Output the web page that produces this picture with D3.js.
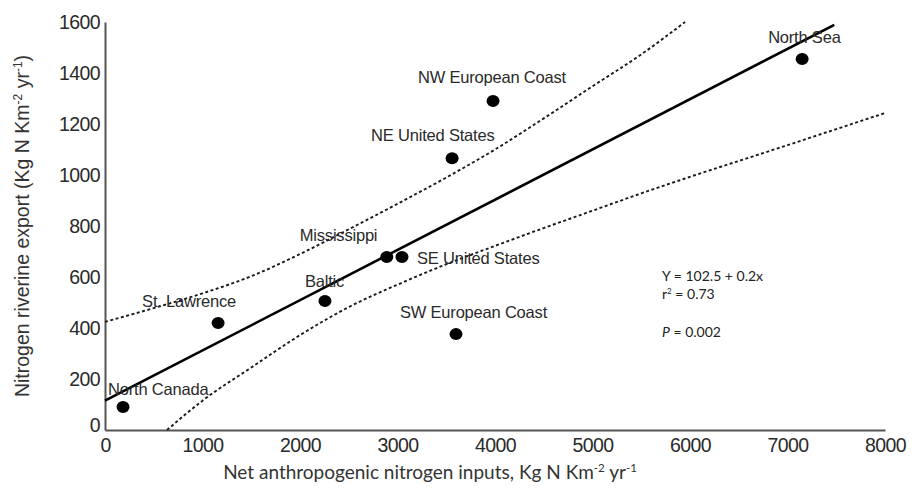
<!DOCTYPE html>
<html>
<head>
<meta charset="utf-8">
<script src="https://cdn.jsdelivr.net/npm/d3@7"></script>
<style>
  html, body { margin: 0; padding: 0; background: #fff; }
  svg { display: block; }
</style>
</head>
<body>
<svg id="chart" width="916" height="491"></svg>
<script>
// ---- data ----
const regions = ["North Canada", "St. Lawrence", "Baltic", "Mississippi", "SE United States",
                 "SW European Coast", "NE United States", "NW European Coast", "North Sea"];
const inputs  = [185, 1160, 2256, 2890, 3046, 3600, 3560, 3980, 7150];
const exports = [90, 420, 506, 678, 678, 376, 1066, 1290, 1455];

const fitX = [0, 7480];
const fitY = [115, 1589];

const upperX = [0, 500, 1000, 1500, 2000, 2500, 3000, 3500, 4000, 4500, 5000, 5500, 5950];
const upperY = [424, 478, 536, 603, 690, 787, 887, 990, 1100, 1222, 1348, 1473, 1600];

const lowerX = [636, 1000, 1500, 2000, 2500, 3000, 3500, 4000, 4500, 5000, 5500, 6000, 6500, 7000, 7500, 8000];
const lowerY = [0, 115, 245, 372, 482, 570, 650, 722, 792, 860, 928, 993, 1055, 1117, 1180, 1243];

const xTicks = [0, 1000, 2000, 3000, 4000, 5000, 6000, 7000, 8000];
const yTicks = [0, 200, 400, 600, 800, 1000, 1200, 1400, 1600];

const statLines = ["Y = 102.5 + 0.2x", "r2 = 0.73", "P = 0.002"];

// ---- layout ----
const svg = d3.select("#chart");
const x = d3.scaleLinear().domain([0, 8000]).range([105, 885]);
const y = d3.scaleLinear().domain([0, 1600]).range([430, 22]);

// label offsets from dot centre (px)
const labelOff = [[-15, -12], [-76, -16], [-20, -14], [-87, -16], [15, 7],
                  [-56, -16], [-81, -17], [-75, -18], [-34, -16]];

// axes
const xAxis = svg.append("g").attr("transform", `translate(0,${y(0)})`)
  .call(d3.axisBottom(x).tickValues(xTicks).tickSize(0).tickPadding(8).tickFormat(d3.format("d")));
const yAxis = svg.append("g").attr("transform", `translate(${x(0)},0)`)
  .call(d3.axisLeft(y).tickValues(yTicks).tickSize(0).tickPadding(5).tickFormat(d3.format("d")));
[xAxis, yAxis].forEach(g => {
  g.select(".domain").attr("stroke", "#555").attr("stroke-width", 2);
  g.selectAll("text").attr("font-family", "'Liberation Sans', Arial, sans-serif")
    .attr("font-size", 19.5).attr("fill", "#2a2a2a").attr("letter-spacing", -0.6);
});
yAxis.selectAll(".tick").filter(d => d === 0).select("text").attr("dy", "0.1em");

// lines
const line = d3.line().x(d => x(d[0])).y(d => y(d[1])).curve(d3.curveMonotoneX);
svg.append("path").datum(upperX.map((v, i) => [v, upperY[i]]))
  .attr("d", line).attr("fill", "none").attr("stroke", "#1a1a1a")
  .attr("stroke-width", 1.9).attr("stroke-dasharray", "3,2.5");
svg.append("path").datum(lowerX.map((v, i) => [v, lowerY[i]]))
  .attr("d", line).attr("fill", "none").attr("stroke", "#1a1a1a")
  .attr("stroke-width", 1.9).attr("stroke-dasharray", "3,2.5");
svg.append("path").datum(fitX.map((v, i) => [v, fitY[i]]))
  .attr("d", line).attr("fill", "none").attr("stroke", "#000").attr("stroke-width", 2.6);

// points
svg.append("g").selectAll("ellipse").data(regions).join("ellipse")
  .attr("cx", (d, i) => x(inputs[i])).attr("cy", (d, i) => y(exports[i]))
  .attr("rx", 6.5).attr("ry", 6).attr("fill", "#000");

// labels
svg.append("g").selectAll("text").data(regions).join("text")
  .attr("x", (d, i) => x(inputs[i]) + labelOff[i][0])
  .attr("y", (d, i) => y(exports[i]) + labelOff[i][1])
  .attr("font-family", "'Liberation Sans', Arial, sans-serif")
  .attr("font-size", 16.5).attr("fill", "#2a2a2a").attr("letter-spacing", -0.2)
  .text(d => d);

// stats
const st = svg.append("g").attr("font-family", "Lato, 'Open Sans', sans-serif")
  .attr("font-size", 14).attr("fill", "#222");
st.append("text").attr("x", 662).attr("y", 281).text(statLines[0]);
const r2 = st.append("text").attr("x", 662).attr("y", 299);
r2.append("tspan").text("r");
r2.append("tspan").attr("font-size", 8).attr("dy", -5).text("2");
r2.append("tspan").attr("dy", 5).text(statLines[1].slice(2));
const pt = st.append("text").attr("x", 662).attr("y", 337);
pt.append("tspan").attr("font-style", "italic").text("P");
pt.append("tspan").text(statLines[2].slice(1));

// axis titles
const xt = svg.append("text").attr("x", 430).attr("y", 479).attr("text-anchor", "middle")
  .attr("font-family", "Lato, 'Open Sans', sans-serif").attr("font-size", 19).attr("fill", "#333");
xt.append("tspan").text("Net anthropogenic nitrogen inputs, Kg N Km");
xt.append("tspan").attr("font-size", 11.5).attr("dy", -7).text("-2");
xt.append("tspan").attr("dy", 7).text(" yr");
xt.append("tspan").attr("font-size", 11.5).attr("dy", -7).text("-1");

const yt = svg.append("text").attr("transform", "translate(29,226) rotate(-90)").attr("text-anchor", "middle")
  .attr("font-family", "'Liberation Sans', Arial, sans-serif").attr("font-size", 19.5).attr("fill", "#333");
yt.append("tspan").text("Nitrogen riverine export (Kg N Km");
yt.append("tspan").attr("font-size", 12).attr("dy", -7).text("-2");
yt.append("tspan").attr("dy", 7).text(" yr");
yt.append("tspan").attr("font-size", 12).attr("dy", -7).text("-1");
yt.append("tspan").attr("dy", 7).text(")");
</script>
</body>
</html>
